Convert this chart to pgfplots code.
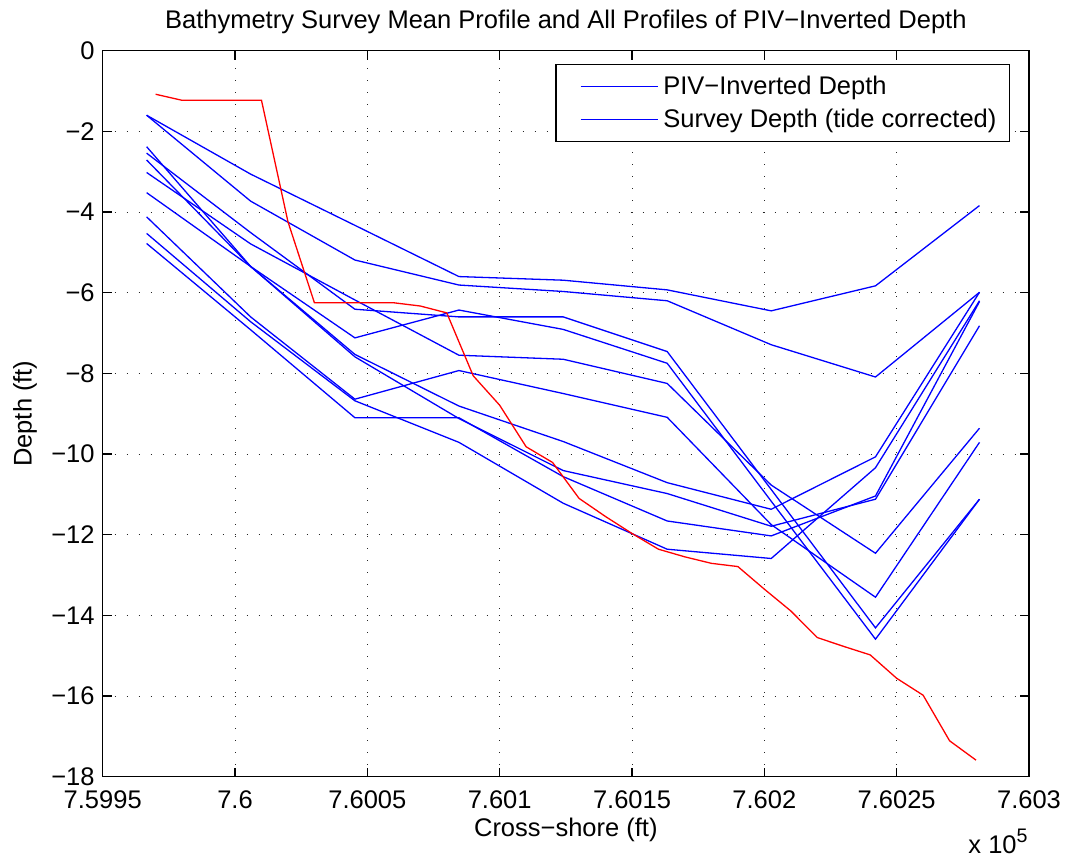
\documentclass[border=0pt]{standalone}
\usepackage{fontspec}
\setmainfont{Liberation Sans}
\usepackage{pgfplots}
\usepackage{pgfplotstable}
\pgfplotsset{compat=1.18}

\pgfplotstableread{
x L1 L2 R S T U Q P1 P2 P3
759966.6 -1.60 -1.60 -2.54 -3.52 -2.38 -2.71 -3.02 -4.12 -4.53 -4.78
760005.9 -3.06 -3.73 -4.51 -5.35 -5.35 -5.35 -4.79 -6.60 -6.72 -6.92
760045.3 -4.33 -5.19 -6.41 -7.12 -7.53 -7.59 -6.18 -8.64 -8.68 -9.10
760084.6 -5.60 -5.81 -6.60 -6.43 -8.81 -9.12 -7.55 -7.93 -9.71 -9.10
760124.0 -5.69 -5.97 -6.60 -6.91 -9.69 -10.41 -7.65 -8.50 -11.22 -10.56
760163.3 -5.93 -6.20 -7.46 -7.75 -10.71 -10.98 -8.25 -9.09 -12.36 -11.66
760202.6 -6.45 -7.29 -10.88 -11.17 -11.37 -11.79 -10.77 -11.75 -12.59 -12.03
760242.0 -5.83 -8.09 -14.31 -14.59 -10.07 -11.12 -12.46 -13.55 -10.34 -11.04
760281.3 -3.84 -5.99 -11.12 -11.12 -5.99 -6.82 -9.36 -9.71 -6.20 -6.22
}\pivtable

\pgfplotstableread{
x y
759970 -1.08
759980 -1.23
759990 -1.23
760000 -1.23
760010 -1.23
760020 -4.24
760030 -6.25
760040 -6.25
760050 -6.25
760060 -6.25
760070 -6.33
760080 -6.50
760090 -8.06
760100 -8.79
760110 -9.82
760120 -10.21
760130 -11.10
760140 -11.55
760150 -11.97
760160 -12.36
760170 -12.55
760180 -12.71
760190 -12.79
760200 -13.35
760210 -13.89
760220 -14.55
760230 -14.77
760240 -14.98
760250 -15.56
760260 -15.98
760270 -17.11
760280 -17.59
}\surveytable

\begin{document}
\begin{tikzpicture}[font=\fontsize{12.75pt}{15pt}\selectfont]
\begin{axis}[
  scale only axis,
  width=463.15pt, height=363pt,
  xmin=759950, xmax=760300,
  ymin=-18, ymax=0,
  clip mode=individual,
  scaled x ticks=false,
  xtick={759950,760000,760050,760100,760150,760200,760250,760300},
  xticklabels={7.5995,7.6,7.6005,7.601,7.6015,7.602,7.6025,7.603},
  ytick={-18,-16,-14,-12,-10,-8,-6,-4,-2,0},
  yticklabels={−18,−16,−14,−12,−10,−8,−6,−4,−2,0},
  tick align=inside,
  major tick length=4.5pt,
  minor tick num=0,
  axis line style={line width=0.8pt},
  every tick/.style={black, line width=0.6pt},
  grid=major,
  major grid style={black!85, line width=0.45pt, dash pattern=on 0.45pt off 5.55pt},
  xticklabel style={anchor=north, inner sep=0pt, yshift=-7pt},
  yticklabel style={anchor=east, inner sep=0pt, xshift=-3.85pt},
  xlabel={Cross−shore (ft)},
  ylabel={Depth (ft)},
  title={Bathymetry Survey Mean Profile and All Profiles of PIV−Inverted Depth},
  every axis x label/.style={at={(axis description cs:0.5,-0.0734)}, anchor=center},
  every axis y label/.style={at={(axis description cs:-0.0839,0.5)}, anchor=center, rotate=90},
  every axis title/.style={at={(axis description cs:0.5,1.0395)}, anchor=center},
  legend cell align=left,
  legend image code/.code={\path (-8pt,0pt); \draw[#1] (0pt,0pt) -- (38.5pt,0pt);},
  legend style={at={(0.9795,0.9817)}, anchor=north east, draw=black, line width=0.6pt,
    inner xsep=4pt, inner ysep=3pt, row sep=1pt,
    nodes={inner sep=2.5pt}, font=\fontsize{12.75pt}{15pt}\selectfont},
]
\addplot[blue, line width=0.65pt] table[x=x, y=L1] {\pivtable};
\addlegendentry{PIV−Inverted Depth}
\addplot[blue, line width=0.65pt] table[x=x, y=L2] {\pivtable};
\addlegendentry{Survey Depth (tide corrected)}
\addplot[blue, line width=0.65pt, forget plot] table[x=x, y=R] {\pivtable};
\addplot[blue, line width=0.65pt, forget plot] table[x=x, y=S] {\pivtable};
\addplot[blue, line width=0.65pt, forget plot] table[x=x, y=T] {\pivtable};
\addplot[blue, line width=0.65pt, forget plot] table[x=x, y=U] {\pivtable};
\addplot[blue, line width=0.65pt, forget plot] table[x=x, y=Q] {\pivtable};
\addplot[blue, line width=0.65pt, forget plot] table[x=x, y=P1] {\pivtable};
\addplot[blue, line width=0.65pt, forget plot] table[x=x, y=P2] {\pivtable};
\addplot[blue, line width=0.65pt, forget plot] table[x=x, y=P3] {\pivtable};
\addplot[red, line width=0.65pt, forget plot] table[x=x, y=y] {\surveytable};
\node[anchor=base west, inner sep=0pt] at (axis description cs:0.9342,-0.1051)
  {x 10\raisebox{5.5pt}{\fontsize{9.8pt}{10pt}\selectfont 5}};
\end{axis}
\pgfresetboundingbox
\path[use as bounding box] (-51.35pt,-43.15pt) rectangle (485.15pt,388.35pt);
\end{tikzpicture}
\end{document}
